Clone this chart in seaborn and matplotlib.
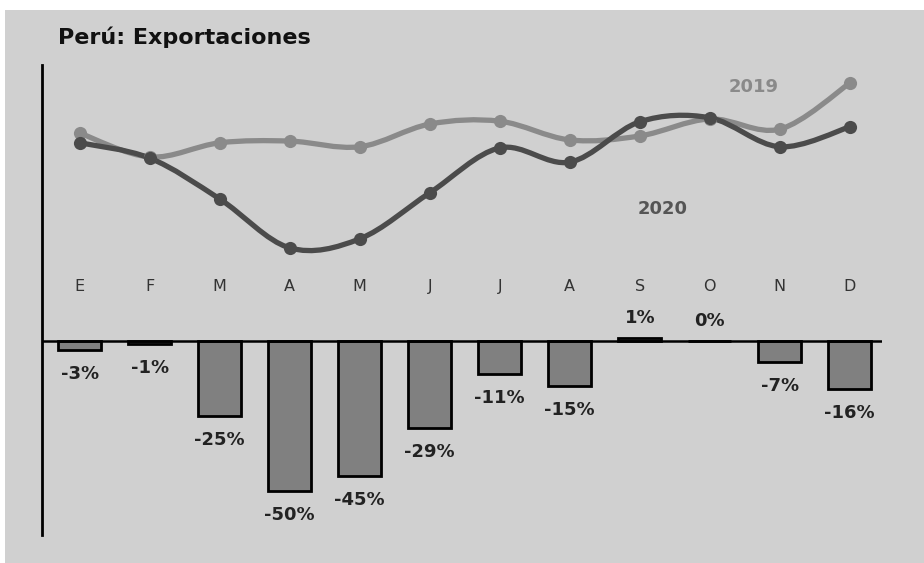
import numpy as np
import pandas as pd
import matplotlib
matplotlib.use("Agg")
import matplotlib.pyplot as plt
from matplotlib.path import Path
from matplotlib.patches import PathPatch, Rectangle
import seaborn as sns

# data
months = ["E", "F", "M", "A", "M", "J", "J", "A", "S", "O", "N", "D"]
exp_2019 = [3940, 3520, 3770, 3800, 3700, 4100, 4150, 3820, 3890, 4190, 4010, 4820]
exp_2020 = [3770, 3500, 2780, 1920, 2080, 2890, 3680, 3430, 4140, 4210, 3700, 4050]
var_pct = [-3, -1, -25, -50, -45, -29, -11, -15, 1, 0, -7, -16]

BG = "#d0d0d0"
C19 = "#8a8a8a"
C20 = "#4b4b4b"
BAR = "#808080"


def smooth_path(x, y):
    # Catmull-Rom through the points, drawn as cubic Bezier segments
    pts = np.column_stack([x, y]).astype(float)
    n = len(pts)
    verts = [pts[0]]
    codes = [Path.MOVETO]
    for i in range(n - 1):
        p0 = pts[i - 1] if i > 0 else pts[i]
        p1 = pts[i]
        p2 = pts[i + 1]
        p3 = pts[i + 2] if i + 2 < n else pts[i + 1]
        c1 = p1 + (p2 - p0) / 6.0
        c2 = p2 - (p3 - p1) / 6.0
        verts += [c1, c2, p2]
        codes += [Path.CURVE4] * 3
    return Path(verts, codes)


sns.set_style("white")
plt.rcParams["font.family"] = ["DejaVu Sans"]

df = pd.DataFrame({"idx": np.arange(len(months)), "mes": months, "var": var_pct})

fig = plt.figure(figsize=(9.24, 5.63), dpi=100, facecolor="white")
fig.add_artist(Rectangle((5 / 924, 0), 1, 1 - 10 / 563, transform=fig.transFigure,
                         facecolor=BG, edgecolor="none", zorder=-10))

ax = fig.add_axes([42 / 924, 1 - 535 / 563, 840 / 924, 470 / 563])
ax.set_facecolor("none")
sns.barplot(data=df, x="idx", y="var", color=BAR, saturation=1, width=0.61,
            edgecolor="black", linewidth=2, ax=ax)
ax.set_xlim(-0.54, 11.46)
ax.set_ylim(-64.7, 92)
ax.axhline(0, color="black", lw=1.8, zorder=5)
for s in ["top", "right", "bottom"]:
    ax.spines[s].set_visible(False)
ax.spines["left"].set_color("black")
ax.spines["left"].set_linewidth(2)
ax.set_xticks([])
ax.set_yticks([])
ax.set_xlabel("")
ax.set_ylabel("")

for i, v in enumerate(var_pct):
    off = -17 if v < 0 else 14
    ax.annotate(f"{v}%", (i, v), xytext=(0, off), textcoords="offset points",
                ha="center", va="center", fontsize=13, fontweight="bold", color="#222222")

for i, m in enumerate(months):
    ax.text(i, 18.3, m, ha="center", va="center", fontsize=11.5, color="#333333")

# lines on a twin axis
ax2 = ax.twinx()
ax2.set_ylim(-3133, 5139)
for s in ax2.spines.values():
    s.set_visible(False)
ax2.set_yticks([])
x = np.arange(len(months))
for vals, col in [(exp_2019, C19), (exp_2020, C20)]:
    ax2.add_patch(PathPatch(smooth_path(x, vals), facecolor="none", edgecolor=col,
                            lw=3.8, capstyle="round", joinstyle="round"))
    sns.scatterplot(x=x, y=vals, color=col, s=90, edgecolor=col, linewidth=0, ax=ax2,
                    zorder=4)
ax2.set_xlim(-0.54, 11.46)

ax2.text(9.62, 4750, "2019", ha="center", va="center", fontsize=13,
         fontweight="bold", color=C19)
ax2.text(8.33, 2600, "2020", ha="center", va="center", fontsize=13,
         fontweight="bold", color="#555555")

fig.text(58 / 924, 1 - 37 / 563, "Perú: Exportaciones", ha="left", va="center",
         fontsize=16, fontweight="bold", color="#111111")

fig.savefig("out.png", dpi=100, facecolor="white")
